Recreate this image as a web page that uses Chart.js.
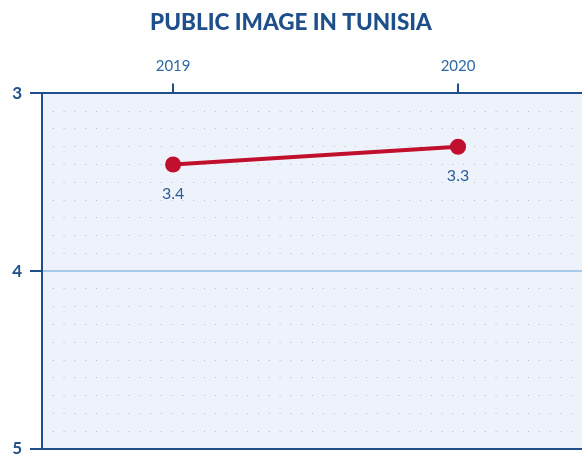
<!DOCTYPE html>
<html>
<head>
<meta charset="utf-8">
<script src="https://cdn.jsdelivr.net/npm/chart.js@4.4.1/dist/chart.umd.min.js"></script>
<style>
  html, body { margin: 0; padding: 0; background: #ffffff; overflow: hidden; width: 582px; height: 455px; }
  canvas { display: block; }
</style>
</head>
<body>
<canvas id="c" width="582" height="470"></canvas>
<script>
const chartTitle = 'PUBLIC IMAGE IN TUNISIA';
const years = [2019, 2020];
const scores = [3.4, 3.3];
const yTickLabels = [3, 4, 5];

const DARK = '#1f4f8a';
const MID = '#2d6aa6';
const RED = '#c0102e';

const plotBg = {
  id: 'plotBg',
  beforeDraw(chart) {
    const { ctx, chartArea: a } = chart;
    ctx.save();
    ctx.fillStyle = '#eef3fb';
    ctx.fillRect(a.left, a.top, a.right - a.left, a.bottom - a.top);
    ctx.restore();
  }
};

const valueLabels = {
  id: 'valueLabels',
  afterDatasetsDraw(chart) {
    const { ctx } = chart;
    const meta = chart.getDatasetMeta(0);
    ctx.save();
    ctx.fillStyle = '#2a5b97';
    ctx.font = '16px Lato';
    ctx.textAlign = 'center';
    ctx.textBaseline = 'middle';
    meta.data.forEach((pt, i) => {
      ctx.fillText(scores[i].toFixed(1), pt.x, pt.y + 29);
    });
    ctx.restore();
  }
};

new Chart(document.getElementById('c'), {
  type: 'line',
  data: {
    datasets: [{
      data: years.map((y, i) => ({ x: y, y: scores[i] })),
      borderColor: RED,
      backgroundColor: RED,
      borderWidth: 4,
      pointRadius: 8,
      pointBackgroundColor: RED,
      pointBorderWidth: 0,
      tension: 0
    }]
  },
  options: {
    responsive: false,
    animation: false,
    devicePixelRatio: 1,
    layout: { autoPadding: false, padding: { left: 0, right: 0, top: 0, bottom: 21 } },
    plugins: {
      legend: { display: false },
      tooltip: { enabled: false },
      title: {
        display: true,
        text: chartTitle,
        color: DARK,
        font: { family: 'Lato', size: 22.5, weight: '900' },
        padding: { top: 9, bottom: 8 }
      }
    },
    scales: {
      x: {
        type: 'linear',
        position: 'top',
        min: 2018.54,
        max: 2020.435,
        afterBuildTicks(s) { s.ticks = years.map(v => ({ value: v })); },
        afterFit(s) { s.height = 49.4; s.paddingLeft = 0; s.paddingRight = 0; },
        ticks: {
          color: MID,
          font: { family: 'Lato', size: 15 },
          padding: 8,
          maxRotation: 0,
          callback: v => String(v)
        },
        grid: { drawOnChartArea: false, drawTicks: true, tickLength: 10, color: DARK, lineWidth: 2 },
        border: { display: true, color: DARK, width: 2 }
      },
      y: {
        position: 'left',
        reverse: true,
        min: 3, max: 5,
        weight: 1,
        afterFit(s) { s.width = 0; },
        ticks: { display: false, stepSize: 0.1 },
        grid: {
          drawTicks: false,
          lineWidth: 1,
          color: ctx => (Math.abs(ctx.tick.value - Math.round(ctx.tick.value)) < 1e-6 ? 'rgba(0,0,0,0)' : '#b0bdd2')
        },
        border: { display: false, dash: [1, 9.8] }
      },
      y2: {
        position: 'left',
        reverse: true,
        min: 3, max: 5,
        weight: 2,
        afterBuildTicks(s) { s.ticks = yTickLabels.map(v => ({ value: v })); },
        afterFit(s) { s.width = 42; },
        ticks: {
          color: DARK,
          font: { family: 'Lato', size: 17, weight: 'bold' },
          padding: 8,
          callback: v => String(v)
        },
        grid: {
          drawTicks: true,
          tickLength: 12,
          tickColor: DARK,
          lineWidth: 2,
          color: ctx => (ctx.tick.value === 4 ? '#a8cbe9' : DARK)
        },
        border: { display: true, color: DARK, width: 2 }
      }
    }
  },
  plugins: [plotBg, valueLabels]
});
</script>
</body>
</html>
